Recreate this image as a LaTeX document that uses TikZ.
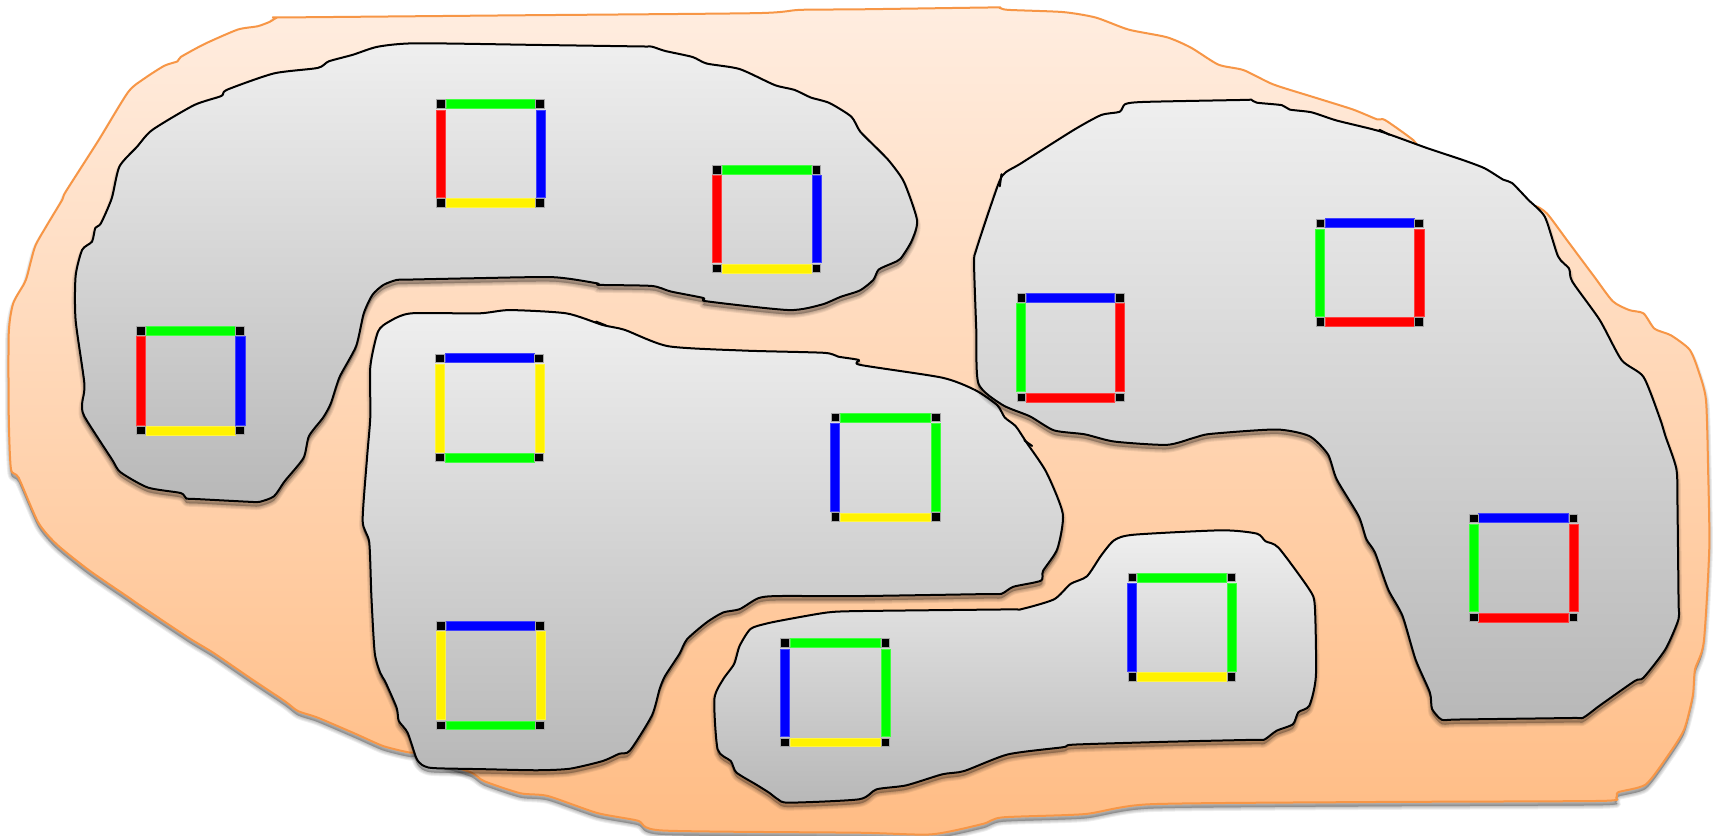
\documentclass[tikz,border=0pt]{standalone}
\usetikzlibrary{calc}
\definecolor{edgeorange}{HTML}{F79646}
\definecolor{orangetop}{HTML}{FFEDE0}
\definecolor{orangebot}{HTML}{FFBC84}
\definecolor{graytop}{HTML}{EFEFEF}
\definecolor{graybot}{HTML}{B8B8B8}
\definecolor{kred}{HTML}{FF0000}
\definecolor{kgreen}{HTML}{00FF00}
\definecolor{kblue}{HTML}{0000FF}
\definecolor{kyellow}{HTML}{FFF200}
\tikzset{
  region/.style={shade,top color=orangetop,bottom color=orangebot,draw=edgeorange,line width=1pt,line join=round},
  blobfill/.style={shade,top color=graytop,bottom color=graybot,draw=black,line width=1pt,line join=round},
  softedge/.style={fill=black,draw=black,fill opacity=.07,draw opacity=.07,line join=round},
  cornerbox/.style={fill=black,draw=gray!70,line width=0.4pt},
  barpiece/.style={line width=0.25pt},
  outlinetick/.style={draw=black,line width=1pt,line cap=round},
}
\def\outerpath{plot[smooth cycle,tension=.4] coordinates {
(253,16)(262,15.9)(470,14)(690,12)(730,9)(785,8.5)(905,6.8)(912,7)(920,9)(970,11)(1000,16)(1030,27)(1065,34)(1087,43.5)(1112,59)(1135,64)(1162,77)(1200,89)(1235,100)(1257,109)(1264,109.5)(1290,128)(1300,140)(1350,165)(1395,195)(1401,188)(1412,195)(1430,219)(1455,252.5)(1472,275)(1487,283)(1500,286)(1510,300)(1525,306)(1542,319)(1550,338)(1557,365)(1559,430)(1560,501)(1555,586)(1547,611)(1545,635)(1537,666)(1522,690)(1502,716)(1477,723)(1475,728)(1460,731)(1250,732)(1050,734)(990,743)(915,746)(897,752)(850,761.5)(784,760)(605,758)(582,749)(545,742)(500,726.5)(475,724)(442,713)(430,705)(400,695)(385,685)(375,687)(350,681)(325,670)(290,655)(272,649)(260,640)(230,620)(195,596)(172,582)(127,552)(117,545)(82,521)(52,497)(35,477)(17,436)(10,428)(8,380)(8,304)(12,277)(22,259)(25,251)(32,225)(42,207)(57,182)(60,175)(90,128)(117,84)(132,71.5)(150,60)(162,56)(165,52)(187,40)(217,27)(235,24)(246,20)}}
\def\blobA{plot[smooth cycle,tension=.4] coordinates {
(380,39.5)(490,41)(585,42.4)(595,42.6)(607,46.5)(632,52)(645,58)(675,63)(707,77.6)(725,82)(740,89)(757,94)(777,106.5)(785,120)(802,137)(812,147.5)(825,166)(837,201)(832,220)(822,236)(815,240)(802,246)(797,255.5)(785,265)(767,271)(750,278)(720,283)(645,275)(642,272)(612,266)(595,261)(547,260)(545,258.6)(505,253)(430,254)(372,255.2)(362,255.5)(350,260)(340,269)(332,286)(325,316)(310,344)(302,368)(295,381)(282,398)(277,418)(260,439)(250,453)(237,458)(228,458)(180,455.5)(170,455)(165,450)(135,445)(110,431)(102,419)(77,380)(75,368)(77,350)(69,292)(69,252)(75,228)(84,220.5)(87,208)(92,204)(102,181)(109,152)(125,134)(139,118.6)(177,96)(202,87.6)(207,82)(250,67)(290,62)(300,56)(322,50)(345,42.6)}}
\def\blobB{plot[smooth cycle,tension=.4] coordinates {
(375,286)(437,286)(465,283)(517,286)(550,296.6)(570,301)(610,316)(680,320)(752,322)(765,325.5)(784,328.6)(785,333)(860,344.7)(890,356)(910,369.6)(917,381)(927,389)(937,404)(955,431)(970,469)(965,501)(952,521)(950,530)(925,535.5)(914,542)(900,542.2)(785,544)(710,544)(692,546)(675,556)(660,559)(645,568)(627,583.5)(620,597)(607,617)(602,629)(595,653)(575,685)(565,688)(550,694.6)(520,701.6)(490,703)(440,702)(402,701.3)(391,700.5)(385,698)(380,692)(372,668.7)(364,658)(362,646)(352,623)(347,614)(342,595.7)(339,545)(337,495)(331,475.5)(335,417.7)(338,380)(338,334.6)(345,302.7)(355,293.6)}}
\def\blobC{plot[smooth cycle,tension=.4] coordinates {
(1017,493)(1035,488)(1115,484)(1147,487)(1155,494)(1167,500)(1195,538)(1200,553)(1201,617)(1195,644)(1185,650)(1180,661)(1165,667)(1154,675)(1145,675.2)(1065,677)(980,679.6)(970,682)(920,688.5)(880,703.7)(860,706.7)(827,716.8)(800,720.4)(784,729.5)(720,732.6)(710,729.5)(702,723.5)(690,716)(672,705)(667,694.6)(655,684)(652,638)(660,620)(670,606)(675,589.6)(685,574)(700,569)(720,565)(755,559)(784,557.7)(920,556.2)(932,556)(962,547)(977,533)(992,526)(1005,507)}}
\def\blobD{plot[smooth cycle,tension=.4] coordinates {
(1027,95)(1045,93)(1135,91.2)(1142,91)(1147,93.7)(1170,96)(1177,100)(1197,102.5)(1220,110)(1260,120)(1302,135)(1335,146)(1355,153.6)(1372,164)(1380,167)(1395,182.5)(1410,198)(1422,234)(1432,245)(1435,257)(1460,292)(1480,328.6)(1500,344)(1515,382)(1520,398)(1530,428)(1531,460)(1532,550)(1532,565)(1520,592.6)(1500,618.5)(1492,621.5)(1460,644)(1445,655)(1435,655.3)(1330,656.7)(1316,657)(1307,647)(1305,632)(1292,602)(1280,562)(1267,538)(1255,504.5)(1247,492)(1240,471)(1220,437.5)(1212,414.7)(1195,398)(1165,392)(1105,396)(1090,399.5)(1065,406)(1017,403)(990,396.4)(962,392.8)(940,380)(915,369.6)(893,350)(891,300)(889,240)(891,228)(905,185.6)(915,160)(932,149)(980,118.6)(1005,105)(1022,102)}}
\newcommand{\softshadow}[1]{%
  \begin{scope}[shift={(0,4)}]
    \foreach \wd in {0.5pt,1.5pt,2.5pt,3.5pt}{\path[softedge,line width=\wd] #1;}
  \end{scope}}
% corners x1 y1 x2 y2, colours left top right bottom
\newcommand{\blockring}[8]{%
  \fill[#5,draw=#5!75!white,barpiece] (#1-4.5,#2+5.2) rectangle (#1+3.9,#4-5.2);
  \fill[#7,draw=#7!75!white,barpiece] (#3-3.9,#2+5.2) rectangle (#3+4.5,#4-5.2);
  \fill[#6,draw=#6!75!white,barpiece] (#1+4.6,#2-4.2) rectangle (#3-4.6,#2+4);
  \fill[#8,draw=#8!75!white,barpiece] (#1+4.6,#4-4) rectangle (#3-4.6,#4+4);
  \foreach \cx/\cy in {#1/#2,#3/#2,#1/#4,#3/#4}{
    \path[cornerbox] (\cx-3.9,\cy-3.9) rectangle (\cx+3.9,\cy+3.9);}
}
\begin{document}
\begin{tikzpicture}[x=0.54785pt,y=-0.54785pt]
\useasboundingbox (0,0) rectangle (1568,763);
\fill[white] (0,0) rectangle (1568,763);
\softshadow{\outerpath}
\path[region] \outerpath;
\softshadow{\blobA}
\path[blobfill] \blobA;
\softshadow{\blobB}
\path[blobfill] \blobB;
\softshadow{\blobC}
\path[blobfill] \blobC;
\softshadow{\blobD}
\path[blobfill] \blobD;
\path[outlinetick] (1259,118.5) -- (1268,123);
\path[outlinetick] (914,159) -- (912.5,170);
\path[outlinetick] (544,293.5) -- (553,297);
\path[outlinetick] (935,402) -- (942,407);
\blockring{402.5}{95}{493}{185}{kred}{kgreen}{kblue}{kyellow}
\blockring{654.5}{155}{745}{245}{kred}{kgreen}{kblue}{kyellow}
\blockring{128.5}{302}{219}{393}{kred}{kgreen}{kblue}{kyellow}
\blockring{401.5}{327}{492}{417.6}{kyellow}{kblue}{kyellow}{kgreen}
\blockring{762.5}{381}{854}{472}{kblue}{kgreen}{kgreen}{kyellow}
\blockring{402.5}{571}{493}{662}{kyellow}{kblue}{kyellow}{kgreen}
\blockring{716.5}{587}{808}{677.5}{kblue}{kgreen}{kgreen}{kyellow}
\blockring{1033.5}{527}{1124}{618}{kblue}{kgreen}{kgreen}{kyellow}
\blockring{932}{272}{1022}{362.7}{kgreen}{kblue}{kred}{kred}
\blockring{1205}{203.7}{1295}{294}{kgreen}{kblue}{kred}{kred}
\blockring{1345}{473}{1436}{563.5}{kgreen}{kblue}{kred}{kred}
\end{tikzpicture}
\end{document}
